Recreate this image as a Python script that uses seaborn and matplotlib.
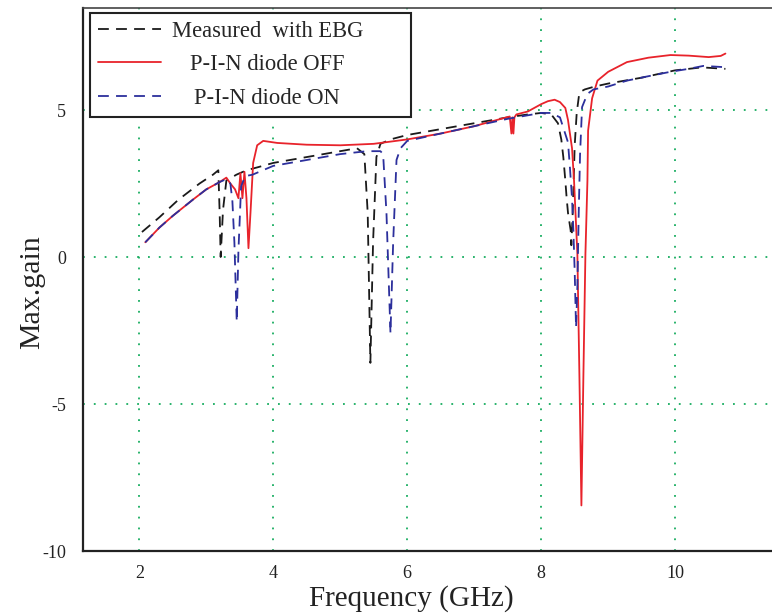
import matplotlib
matplotlib.use("Agg")
import matplotlib.pyplot as plt
import seaborn as sns

# ---------------- data ----------------
ebg_freq = [2.04, 2.3, 2.58, 2.9, 3.1, 3.18, 3.2, 3.215, 3.25, 3.3, 3.45, 3.6, 3.78, 4.0,
            4.5, 5.0, 5.25, 5.36, 5.41, 5.45, 5.49, 5.54, 5.6, 5.75, 6.0, 6.5, 7.0, 7.5,
            7.8, 8.0, 8.15, 8.25, 8.3, 8.33, 8.36, 8.38, 8.4, 8.42, 8.44, 8.45, 8.47, 8.5,
            8.53, 8.57, 8.65, 8.8, 9.0, 9.5, 10.0, 10.4, 10.75]
ebg_gain = [0.85, 1.35, 1.94, 2.5, 2.8, 2.95, 1.5, 0.0, 1.6, 2.6, 2.8, 2.95, 3.06, 3.2,
            3.4, 3.6, 3.7, 3.5, 1.5, -3.6, 0.5, 3.4, 3.85, 4.0, 4.15, 4.35, 4.55, 4.75,
            4.85, 4.9, 4.85, 4.55, 4.0, 3.4, 2.6, 2.0, 1.5, 1.2, 0.9, 0.4, 1.5, 3.8,
            4.9, 5.6, 5.7, 5.8, 5.9, 6.1, 6.35, 6.45, 6.4]

off_freq = [2.09, 2.3, 2.5, 2.8, 3.0, 3.2, 3.3, 3.36, 3.43, 3.48, 3.51, 3.54, 3.57, 3.6,
            3.63, 3.66, 3.7, 3.76, 3.85, 4.06, 4.5, 5.0, 5.5, 6.0, 6.5, 7.0, 7.4, 7.53,
            7.555, 7.57, 7.585, 7.6, 7.63, 7.8, 8.0, 8.1, 8.2, 8.28, 8.36, 8.4, 8.46, 8.49,
            8.54, 8.57, 8.6, 8.63, 8.66, 8.69, 8.7, 8.76, 8.84, 9.0, 9.28, 9.6, 9.93, 10.2,
            10.5, 10.68, 10.75]
off_gain = [0.5, 1.0, 1.4, 1.95, 2.3, 2.55, 2.7, 2.5, 2.3, 2.0, 2.85, 2.0, 2.9, 2.0,
            0.3, 1.5, 3.2, 3.8, 3.95, 3.88, 3.82, 3.8, 3.85, 4.0, 4.2, 4.45, 4.7, 4.78,
            4.2, 4.75, 4.2, 4.75, 4.85, 4.95, 5.2, 5.3, 5.35, 5.27, 5.07, 4.66, 3.7, 2.6,
            0.1, -4.0, -8.45, -4.0, 0.1, 2.6, 4.3, 5.4, 6.0, 6.3, 6.63, 6.78, 6.87, 6.85,
            6.8, 6.84, 6.92]

on_freq = [2.09, 2.3, 2.5, 2.8, 3.0, 3.2, 3.3, 3.36, 3.39, 3.42, 3.455, 3.48, 3.52, 3.58,
           3.69, 4.0, 4.5, 5.0, 5.4, 5.6, 5.64, 5.69, 5.75, 5.79, 5.84, 5.9, 6.0, 6.5,
           7.0, 7.5, 8.0, 8.15, 8.28, 8.4, 8.43, 8.46, 8.48, 8.5, 8.52, 8.54, 8.56, 8.58,
           8.61, 8.69, 8.78, 9.0, 9.28, 9.6, 9.93, 10.2, 10.42, 10.72]
on_gain = [0.5, 1.0, 1.4, 1.95, 2.3, 2.55, 2.65, 2.5, 1.9, 0.5, -2.2, 0.2, 2.4, 2.75,
           2.8, 3.1, 3.3, 3.5, 3.6, 3.6, 3.5, 1.5, -2.6, 0.5, 3.3, 3.7, 3.95, 4.2,
           4.45, 4.7, 4.9, 4.9, 4.75, 3.9, 3.0, 2.0, 0.9, -0.5, -2.4, -1.0, 1.5, 3.5,
           5.1, 5.55, 5.7, 5.8, 6.0, 6.15, 6.3, 6.4, 6.5, 6.46]

legend_labels = ["Measured  with EBG", "P-I-N diode OFF", "P-I-N diode ON"]
x_ticks = [2, 4, 6, 8, 10]
y_ticks = [-10, -5, 0, 5]
y_tick_labels = ["-10", "-5", "0", "5"]

# ---------------- style ----------------
sns.set_theme(style="white")
plt.rcParams["font.family"] = ["Liberation Serif", "DejaVu Serif"]
plt.rcParams["axes.unicode_minus"] = False

fig = plt.figure(figsize=(7.72, 6.13), dpi=100)
ax = fig.add_axes([83 / 772, 62 / 613, 692 / 772, 543 / 613])

dash = (0, (6, 4))
sns.lineplot(x=ebg_freq, y=ebg_gain, ax=ax, color="#1a1a1a", linewidth=1.3,
             linestyle=dash, estimator=None, sort=False)
sns.lineplot(x=off_freq, y=off_gain, ax=ax, color="#e8232b", linewidth=1.3,
             estimator=None, sort=False)
sns.lineplot(x=on_freq, y=on_gain, ax=ax, color="#2c2f9c", linewidth=1.3,
             linestyle=dash, estimator=None, sort=False)

ax.set_xlim(1.16, 11.49)
ax.set_ylim(-10, 8.47)
ax.set_xticks(x_ticks)
ax.set_xticklabels([str(v) for v in x_ticks])
ax.set_yticks(y_ticks)
ax.set_yticklabels(y_tick_labels)

ax.grid(True, color="#18ad60", linestyle=(0, (1, 5)), linewidth=1.3)
ax.set_axisbelow(True)

ax.tick_params(axis="both", direction="in", length=6, width=0.8, color="#555555",
               labelsize=13, labelcolor="#222222")
ax.tick_params(axis="x", pad=10)
ax.tick_params(axis="y", pad=12)

for side in ["left", "bottom"]:
    ax.spines[side].set_color("#222222")
    ax.spines[side].set_linewidth(1.6)
ax.spines["top"].set_color("#444444")
ax.spines["top"].set_linewidth(1.2)
ax.spines["right"].set_visible(False)

ax.set_xlabel("Frequency (GHz)", fontsize=21, color="#222222")
ax.xaxis.set_label_coords(0.475, -0.062)
ax.set_ylabel("Max.gain", fontsize=21.5, color="#222222")
ax.yaxis.set_label_coords(-0.055, 0.477)

handles = ax.get_lines()[:3]
leg = ax.legend(handles, legend_labels, loc="upper left",
                bbox_to_anchor=(0.0102, 0.0, 0.4644, 0.9908), mode="expand",
                borderaxespad=0, fontsize=16.3, handlelength=2.8, handletextpad=0.45,
                labelspacing=0.55, borderpad=0.35, frameon=True, fancybox=False,
                framealpha=1, edgecolor="#222222")
leg.get_frame().set_linewidth(1.5)

# center legend texts within the label column
fig.canvas.draw()
renderer = fig.canvas.get_renderer()
texts = leg.get_texts()
widths = [t.get_window_extent(renderer).width for t in texts]
maxw = max(widths)
for t, w in zip(texts, widths):
    t.set_x((maxw - w) / 2)

fig.savefig("out.png", dpi=100)
